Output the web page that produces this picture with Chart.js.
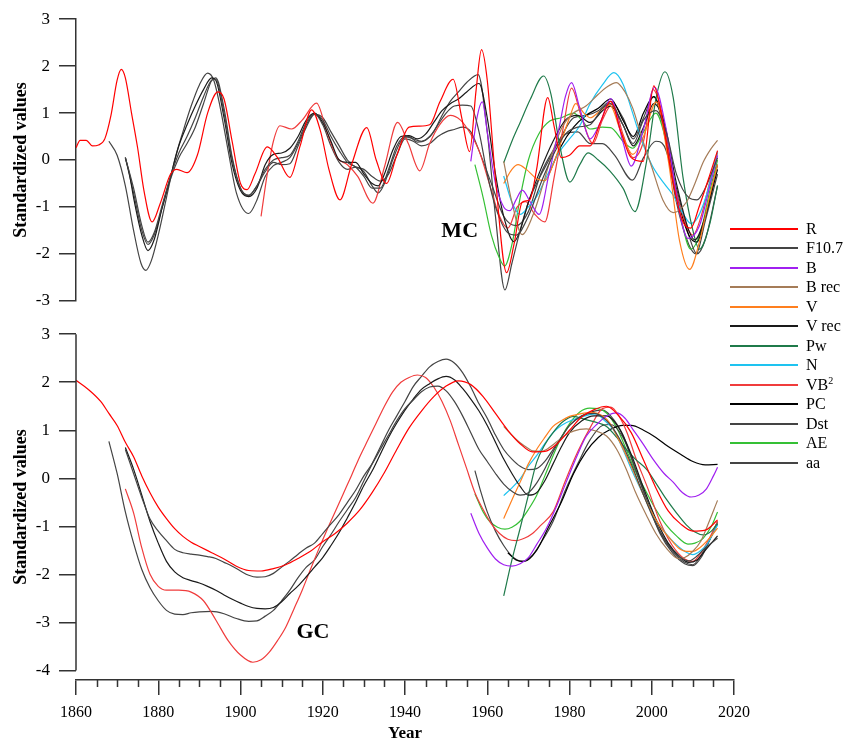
<!DOCTYPE html>
<html>
<head>
<meta charset="utf-8">
<script src="https://cdn.jsdelivr.net/npm/chart.js@4.4.0/dist/chart.umd.min.js"></script>
<style>
  body { margin: 0; background: #fff; width: 843px; height: 745px; position: relative; overflow: hidden;
         font-family: "Liberation Serif", "Times New Roman", serif; }
  #top { position: absolute; left: 0; top: 0; }
  #bot { position: absolute; left: 0; top: 315px; }
  #legend { position: absolute; left: 730px; top: 219px; }
  .row { height: 19.5px; display: flex; align-items: center; font-size: 16px; white-space: nowrap; color: #000; }
  .sw { display: block; width: 68px; height: 2px; margin-right: 8px; flex: none; }
  sup { font-size: 10px; }
</style>
</head>
<body>
<canvas id="top" width="843" height="320"></canvas>
<canvas id="bot" width="843" height="430"></canvas>
<div id="legend"></div>
<script>
// ---- MC panel (top), [year, standardized value] ----
const mcR = [[1860,0.26],[1861,0.42],[1862.5,0.42],[1864,0.3],[1865.5,0.32],[1867,0.45],[1868.5,0.95],[1870,1.7],[1871,1.93],[1872,1.75],[1873.5,1.0],[1875,0.25],[1876.5,-0.64],[1878.5,-1.32],[1880.5,-0.92],[1883,-0.3],[1884.5,-0.2],[1887,-0.27],[1889.5,0.1],[1892,1.0],[1894.5,1.45],[1896,1.3],[1898,0.38],[1900,-0.5],[1901.6,-0.63],[1903.5,-0.3],[1906.5,0.28],[1909,0.05],[1912,-0.37],[1914.5,0.3],[1917.3,1.07],[1919.5,0.6],[1921.5,-0.2],[1924.2,-0.85],[1927,-0.1],[1930.7,0.69],[1933,0.0],[1935.5,-0.5],[1938,0.1],[1941,0.7],[1943.5,0.72],[1946,0.75],[1948.5,1.24],[1951.7,1.72],[1953.8,0.9],[1955.7,0.18],[1957.3,1.5],[1958.6,2.35],[1960,1.7],[1962,-0.4],[1964.7,-2.4],[1966.5,-1.8],[1968.5,-0.9],[1970.3,-0.85],[1972,-0.2],[1974.7,1.33],[1976.3,0.7],[1978,0.05],[1980,0.1],[1982.5,0.3],[1985,0.3],[1987.5,0.8],[1990,1.25],[1992.5,0.6],[1995,0.05],[1997.9,-0.03],[2000.5,1.58],[2002.5,0.9],[2005,-0.4],[2007.5,-1.3],[2009.5,-1.45],[2011.5,-1.0],[2014,-0.35],[2016,0.2]];
const mcF107 = [[1872,0.05],[1874,-0.6],[1876,-1.4],[1877.5,-1.75],[1879,-1.55],[1881,-0.95],[1883,-0.35],[1885,0.15],[1887,0.5],[1889,0.9],[1891,1.35],[1893,1.7],[1894,1.72],[1896,1.0],[1898,0.0],[1900,-0.6],[1902,-0.75],[1904,-0.55],[1906,-0.2],[1908,0.0],[1910,0.05],[1912,0.1],[1914,0.4],[1916,0.8],[1918,0.98],[1920,0.85],[1922,0.5],[1924,0.2],[1926,-0.05],[1928,-0.15],[1930,-0.35],[1932,-0.6],[1934,-0.6],[1936,-0.2],[1938,0.3],[1940,0.5],[1942,0.45],[1944,0.4],[1946,0.5],[1948,0.75],[1950,1.0],[1952,1.15],[1954,1.17],[1956,1.15],[1958,0.6],[1960,-0.3],[1962,-1.0],[1965,-1.55],[1967,-1.6],[1970,-1.2],[1973,-0.5],[1976,0.1],[1979,0.55],[1982,0.7],[1985,0.75],[1988,1.1],[1990,1.2],[1993,0.75],[1995.5,0.35],[1998,0.85],[2001,1.05],[2003.5,0.6],[2006,-0.3],[2009,-0.8],[2011,-0.85],[2013,-0.6],[2016,0.05]];
const mcB = [[1956,-0.03],[1957.5,0.9],[1958.8,1.24],[1960,0.6],[1962,-0.5],[1964,-1.0],[1965.5,-1.08],[1967,-0.85],[1968.5,-0.64],[1970.5,-0.9],[1972.6,-1.16],[1975,-0.3],[1977.5,0.7],[1979,1.35],[1980.5,1.65],[1982.5,1.1],[1985,0.45],[1987.5,0.8],[1990,1.31],[1993,0.38],[1995,-0.13],[1998,0.66],[2000.7,1.55],[2003.5,0.66],[2006.8,-1.13],[2008.8,-1.67],[2011.6,-1.4],[2014,-0.6],[2016,0.1]];
const mcBrec = [[1964,-0.03],[1966,-0.9],[1968.5,-1.59],[1971,-1.2],[1973.6,-0.51],[1976,0.2],[1978.4,0.73],[1981,1.0],[1984,1.15],[1987,1.4],[1989,1.55],[1991.4,1.65],[1993.5,1.45],[1995.4,1.1],[1997.5,0.5],[2000,-0.15],[2002.7,-0.85],[2005.2,-1.12],[2008.4,-0.9],[2010.5,-0.5],[2012.5,-0.05],[2014.5,0.25],[2016,0.42]];
const mcV = [[1964,-0.5],[1966,-0.2],[1967.5,-0.1],[1969.5,-0.2],[1972,-0.4],[1974,-0.44],[1976,-0.1],[1978,0.4],[1980,0.9],[1981.5,1.2],[1983.5,1.0],[1985,0.9],[1987.5,1.05],[1989.8,1.17],[1992.5,0.6],[1995.4,0.12],[1998,0.5],[2001.1,1.24],[2004,0.0],[2006.8,-1.74],[2009.2,-2.33],[2011.6,-1.74],[2014,-0.8],[2016,-0.1]];
const mcVrec = [[1872,0.05],[1873,-0.3],[1874,-0.8],[1876,-1.6],[1877.5,-1.93],[1879,-1.7],[1881,-1.0],[1883,-0.35],[1885,0.3],[1887,0.75],[1889,1.15],[1891,1.5],[1893,1.75],[1894,1.7],[1896,0.9],[1898,-0.1],[1900,-0.65],[1902,-0.78],[1904,-0.6],[1906,-0.1],[1908,0.12],[1910,0.15],[1912,0.25],[1914,0.5],[1916,0.85],[1918,1.0],[1920,0.8],[1922,0.4],[1924,0.0],[1926,-0.05],[1928,-0.05],[1930,-0.3],[1932,-0.5],[1933.5,-0.55],[1935,-0.3],[1937,0.2],[1939,0.5],[1941,0.52],[1943,0.45],[1945,0.55],[1947,0.8],[1949,1.05],[1951,1.2],[1953,1.3],[1955,1.45],[1958,1.63],[1960,0.9],[1962,-0.3],[1964,-1.2],[1966.5,-1.74],[1968,-1.5],[1970,-0.9],[1973,-0.2],[1976,0.4],[1979,0.85],[1982,0.95],[1985,0.8],[1988,1.05],[1990,1.15],[1993,0.75],[1995.5,0.3],[1998,0.7],[2000.5,1.2],[2003,0.8],[2006,-0.5],[2009,-1.5],[2010.5,-1.7],[2013,-1.2],[2016,-0.1]];
const mcPw = [[1964,-0.06],[1966,0.4],[1968,0.8],[1970.5,1.3],[1973.7,1.79],[1975.5,1.4],[1977.6,0.32],[1980.1,-0.47],[1982.5,-0.1],[1984.5,0.15],[1987,0.0],[1989.8,-0.23],[1993,-0.6],[1995.9,-1.1],[1998.7,-0.05],[2001.1,1.34],[2003.2,1.88],[2005.2,1.34],[2007.6,-0.37],[2010,-1.5],[2011.6,-1.9],[2014,-1.4],[2016,-0.54]];
const mcN = [[1964,-0.34],[1966,-0.9],[1968,-1.16],[1970,-1.0],[1972,-0.78],[1975,-0.25],[1977.6,0.18],[1980,0.45],[1982.5,0.73],[1985,1.2],[1988,1.6],[1990.8,1.86],[1993,1.62],[1995,1.1],[1997,0.55],[2000,-0.1],[2003,-0.5],[2005.2,-0.75],[2008,-1.2],[2009.5,-1.35],[2011,-1.25],[2013.3,-0.75],[2016,0.18]];
const mcVB2 = [[1905,-1.2],[1906.5,-0.3],[1908,0.4],[1909.6,0.73],[1912.4,0.66],[1915,0.85],[1918.5,1.21],[1921,0.6],[1923.5,0.05],[1926,-0.1],[1928.5,-0.35],[1932.2,-0.92],[1935,-0.15],[1938.2,0.8],[1940.8,0.35],[1943.6,-0.23],[1946,0.35],[1948.5,0.76],[1951,0.95],[1953.5,0.85],[1956,0.55],[1958,0.2],[1960.5,-0.5],[1963,-1.2],[1965,-1.45],[1967.3,-1.0],[1969.4,-0.89],[1971.5,-1.15],[1974,-1.32],[1976.2,-0.4],[1978.5,0.7],[1980.5,1.53],[1982.8,0.95],[1985.7,0.35],[1988,0.85],[1990.5,1.2],[1993,0.55],[1995.5,0.05],[1998,0.4],[2000.3,1.5],[2002.5,1.0],[2005,-0.3],[2008,-1.3],[2010,-1.6],[2012,-1.2],[2014,-0.5],[2016,0.15]];
const mcPC = [[1975,-0.3],[1978,0.3],[1981,0.7],[1984,0.95],[1987,1.1],[1990,1.3],[1993,0.85],[1995.5,0.5],[1998,1.0],[2000.5,1.35],[2003,0.7],[2006,-0.7],[2009,-1.6],[2011,-1.75],[2013,-1.2],[2016,-0.2]];
const mcDst = [[1872,0.05],[1874,-0.7],[1876,-1.5],[1877.5,-1.8],[1879,-1.6],[1881,-1.0],[1883,-0.4],[1885,0.05],[1887,0.35],[1889,0.7],[1891,1.2],[1893,1.7],[1894,1.75],[1896,1.1],[1898,0.05],[1900,-0.6],[1902,-0.76],[1904,-0.55],[1906,-0.25],[1908,-0.05],[1910,-0.1],[1912,-0.08],[1914,0.3],[1916,0.7],[1918,0.97],[1920,0.9],[1922,0.6],[1924,0.3],[1926,0.0],[1928,-0.15],[1930,-0.2],[1932,-0.35],[1934,-0.45],[1936,-0.3],[1938,0.1],[1940,0.45],[1942,0.4],[1944,0.3],[1946,0.35],[1948,0.5],[1950,0.6],[1952,0.65],[1954,0.7],[1956,0.6],[1958,0.2],[1961,-0.5],[1964,-1.2],[1967,-1.4],[1970,-1.1],[1973,-0.3],[1976,0.2],[1979,0.55],[1982,0.6],[1985,0.35],[1988,0.35],[1991,0.1],[1995.3,-0.43],[1998,0.05],[2001,0.4],[2003,0.3],[2006,-0.6],[2009,-1.6],[2011,-2.0],[2013,-1.7],[2016,-0.55]];
const mcAE = [[1957,-0.1],[1959,-0.8],[1961,-1.6],[1963,-2.1],[1964.2,-2.26],[1966,-1.8],[1968,-0.8],[1970,0.0],[1972.5,0.55],[1975.2,0.83],[1978,0.9],[1981,1.0],[1983,0.85],[1985,0.66],[1988,0.7],[1990,0.69],[1993,0.4],[1995.4,0.25],[1998,0.6],[2001,1.0],[2004,0.2],[2007,-1.2],[2009.5,-1.9],[2012,-1.5],[2014,-0.7],[2016,0.0]];
const mcAa = [[1868,0.4],[1870,0.1],[1872,-0.55],[1874,-1.5],[1875.8,-2.2],[1877,-2.35],[1878.3,-2.15],[1880,-1.6],[1882,-0.8],[1884,0.0],[1886,0.6],[1888,1.15],[1890,1.6],[1892,1.85],[1893.5,1.7],[1895,1.15],[1897,0.2],[1899,-0.7],[1902,-1.14],[1904,-0.85],[1906,-0.35],[1908,-0.12],[1910,-0.05],[1912,0.05],[1914,0.35],[1916,0.75],[1918,0.98],[1920,0.75],[1922,0.3],[1924,-0.05],[1926,-0.2],[1928,-0.15],[1930,-0.25],[1932,-0.55],[1933.5,-0.7],[1935,-0.5],[1937,0.0],[1939,0.4],[1941,0.5],[1943,0.38],[1945,0.42],[1947,0.6],[1949,0.95],[1951,1.25],[1953,1.45],[1955,1.65],[1957.8,1.82],[1960,0.6],[1962,-1.2],[1964.3,-2.77],[1966,-2.2],[1968,-1.5],[1970,-0.9],[1972,-0.5],[1975,0.0],[1978,0.5],[1981,0.9],[1984,0.95],[1987,1.05],[1990,1.25],[1993,0.9],[1995.5,0.45],[1998,0.9],[2000.5,1.35],[2003,0.6],[2006,-0.9],[2009,-1.8],[2010.8,-2.0],[2013,-1.3],[2016,-0.3]];

// ---- GC panel (bottom), [year, standardized value] ----
const gcR = [[1860,2.04],[1863,1.85],[1866,1.6],[1868,1.35],[1870,1.1],[1872,0.75],[1874,0.45],[1876,0.05],[1878,-0.3],[1880,-0.6],[1882,-0.84],[1884,-1.05],[1886,-1.21],[1888,-1.33],[1890,-1.42],[1893,-1.55],[1896,-1.68],[1899,-1.83],[1902,-1.92],[1905,-1.93],[1908,-1.88],[1911,-1.8],[1914,-1.67],[1917,-1.52],[1920,-1.32],[1923,-1.15],[1926,-0.93],[1929,-0.66],[1932,-0.3],[1935,0.12],[1938,0.6],[1941,1.05],[1944,1.4],[1947,1.7],[1950,1.92],[1953,2.03],[1956,1.95],[1959,1.7],[1962,1.35],[1965,1.0],[1968,0.72],[1971,0.55],[1974,0.56],[1977,0.72],[1980,1.0],[1983,1.28],[1986,1.43],[1989,1.5],[1992,1.3],[1995,0.95],[1998,0.38],[2001,-0.2],[2004,-0.68],[2007,-0.95],[2010,-1.1],[2013,-1.08],[2016,-0.87]];
const gcF107 = [[1872,0.6],[1874,0.1],[1876,-0.4],[1878,-0.85],[1880,-1.1],[1882,-1.3],[1884,-1.48],[1886,-1.55],[1888,-1.58],[1890,-1.6],[1892,-1.63],[1894,-1.67],[1896,-1.75],[1898,-1.83],[1900,-1.93],[1902,-2.02],[1904,-2.06],[1906,-2.05],[1908,-1.98],[1910,-1.85],[1912,-1.72],[1914,-1.58],[1916,-1.45],[1918,-1.35],[1920,-1.15],[1922,-0.95],[1924,-0.75],[1926,-0.5],[1928,-0.25],[1930,0.05],[1932,0.3],[1934,0.6],[1936,0.9],[1938,1.2],[1940,1.45],[1942,1.63],[1944,1.8],[1946,1.9],[1948,1.92],[1950,1.82],[1952,1.6],[1954,1.3],[1956,0.95],[1958,0.6],[1960,0.35],[1962,0.1],[1964,-0.12],[1966,-0.27],[1968,-0.35],[1970,-0.3],[1972,-0.1],[1974,0.2],[1976,0.55],[1978,0.85],[1980,1.1],[1983,1.3],[1986,1.35],[1989,1.2],[1992,0.85],[1995,0.3],[1998,-0.35],[2001,-0.95],[2004,-1.4],[2007,-1.65],[2009,-1.72],[2011,-1.62],[2013,-1.45],[2016,-1.25]];
const gcB = [[1956,-0.73],[1958,-1.15],[1960,-1.45],[1962,-1.68],[1964,-1.8],[1966,-1.83],[1968,-1.78],[1970,-1.65],[1972,-1.38],[1974.4,-1.04],[1977,-0.55],[1979.2,-0.08],[1982,0.5],[1984.1,0.88],[1987,1.15],[1989,1.29],[1991.4,1.36],[1993.5,1.25],[1995.4,1.02],[1998,0.7],[2000.3,0.4],[2003,0.1],[2005.2,-0.08],[2007.5,-0.3],[2009.6,-0.39],[2011.5,-0.35],[2013.3,-0.22],[2015,0.05],[2016,0.23]];
const gcBrec = [[1964,1.08],[1966,0.9],[1968,0.74],[1970,0.62],[1971.1,0.57],[1973,0.56],[1974.4,0.6],[1976,0.7],[1977.6,0.81],[1980,0.95],[1982.5,1.02],[1984.1,1.03],[1986.5,0.98],[1989,0.88],[1991.5,0.6],[1993.8,0.19],[1996,-0.28],[1998.7,-0.77],[2001,-1.15],[2003.5,-1.45],[2006.4,-1.67],[2008,-1.65],[2010,-1.52],[2012,-1.3],[2013.3,-1.04],[2016,-0.46]];
const gcV = [[1964,-0.84],[1966,-0.45],[1968,-0.08],[1970,0.3],[1972,0.6],[1974,0.85],[1976,1.08],[1978,1.2],[1980,1.29],[1982,1.33],[1984,1.36],[1985.7,1.37],[1988,1.3],[1989.8,1.15],[1992,0.8],[1994.6,0.33],[1997,-0.15],[1999.5,-0.63],[2002,-1.0],[2004.4,-1.25],[2006.5,-1.45],[2008.4,-1.52],[2010,-1.52],[2011.6,-1.45],[2014,-1.25],[2016,-1.04]];
const gcVrec = [[1872,0.64],[1874,0.19],[1876,-0.35],[1878,-0.9],[1880,-1.35],[1882,-1.73],[1884,-1.95],[1886,-2.07],[1888,-2.13],[1890,-2.18],[1892,-2.25],[1894,-2.33],[1896,-2.43],[1898,-2.52],[1900,-2.6],[1902,-2.67],[1904,-2.71],[1906,-2.72],[1908,-2.69],[1910,-2.57],[1912,-2.4],[1914,-2.24],[1916,-2.05],[1918,-1.85],[1920,-1.65],[1922,-1.4],[1924,-1.13],[1926,-0.82],[1928,-0.5],[1930,-0.15],[1932,0.15],[1934,0.5],[1936,0.85],[1938,1.15],[1940,1.42],[1942,1.65],[1944,1.85],[1946,1.97],[1948,2.07],[1950,2.12],[1952,2.05],[1954,1.87],[1956,1.65],[1958,1.4],[1960,1.1],[1962,0.75],[1964,0.4],[1966,0.1],[1968,-0.17],[1970,-0.35],[1972,-0.3],[1974,-0.05],[1976,0.3],[1978,0.65],[1980,0.95],[1983,1.2],[1986,1.3],[1989,1.3],[1992,1.05],[1995,0.5],[1998,-0.2],[2001,-0.85],[2004,-1.35],[2007,-1.65],[2009,-1.75],[2011,-1.7],[2013,-1.5],[2016,-1.2]];
const gcPw = [[1964,-2.45],[1966,-1.7],[1968,-1.04],[1970,-0.35],[1972,0.33],[1974,0.7],[1976,0.95],[1978,1.15],[1980.9,1.29],[1984,1.22],[1987,1.15],[1989,1.08],[1991.5,0.85],[1993.8,0.6],[1996,0.4],[1998.7,0.19],[2001,-0.1],[2003.5,-0.43],[2006,-0.72],[2008.4,-0.97],[2010.5,-1.12],[2012.5,-1.18],[2014.5,-1.1],[2016,-0.94]];
const gcN = [[1964,-0.36],[1966,-0.2],[1968,-0.01],[1970,0.25],[1972,0.47],[1974,0.72],[1976,0.95],[1978,1.1],[1980.9,1.22],[1983,1.28],[1986.5,1.34],[1988.5,1.2],[1990.6,1.02],[1993,0.6],[1995.4,0.12],[1998,-0.35],[2000.3,-0.77],[2003,-1.1],[2005.2,-1.32],[2008,-1.52],[2010,-1.59],[2012,-1.5],[2013.3,-1.39],[2016,-0.97]];
const gcVB2 = [[1872,-0.22],[1874,-0.72],[1876,-1.45],[1878,-2.0],[1880,-2.25],[1882,-2.33],[1885,-2.33],[1888,-2.37],[1891,-2.55],[1894,-2.95],[1897,-3.38],[1900,-3.68],[1903,-3.83],[1905,-3.78],[1907,-3.62],[1909,-3.38],[1911,-3.1],[1913,-2.72],[1915,-2.33],[1917,-1.9],[1919,-1.48],[1921,-1.08],[1923,-0.7],[1925,-0.32],[1927,0.06],[1929,0.45],[1931,0.8],[1933,1.15],[1935,1.5],[1937,1.8],[1939,2.0],[1941,2.1],[1943,2.15],[1945,2.1],[1947,1.9],[1949,1.6],[1951,1.2],[1953,0.7],[1955,0.2],[1957,-0.3],[1959,-0.65],[1961,-0.95],[1963,-1.15],[1965,-1.27],[1967,-1.3],[1969,-1.25],[1971,-1.15],[1973,-0.98],[1976,-0.7],[1979,-0.05],[1982,0.55],[1985,1.05],[1988,1.45],[1990,1.48],[1992,1.3],[1994,0.95],[1996,0.45],[1999,-0.2],[2002,-0.9],[2005,-1.4],[2008,-1.68],[2010,-1.73],[2012,-1.55],[2014,-1.25],[2016,-0.9]];
const gcPC = [[1965,-1.55],[1967,-1.7],[1969,-1.73],[1972,-1.5],[1975,-1.0],[1978,-0.5],[1981,0.1],[1984,0.55],[1987,0.85],[1990,1.02],[1993,1.1],[1995,1.1],[1998,1.0],[2001,0.85],[2004,0.66],[2007,0.5],[2010,0.35],[2013,0.28],[2016,0.29]];
const gcDst = [[1957,0.16],[1958.5,-0.3],[1960,-0.7],[1962,-1.1],[1964,-1.4],[1966,-1.62],[1968.5,-1.73],[1971,-1.6],[1973,-1.35],[1976,-0.9],[1979,-0.25],[1982,0.3],[1985,0.8],[1988,1.1],[1990,1.12],[1993,0.85],[1996,0.2],[1999,-0.5],[2002,-1.15],[2005,-1.55],[2008,-1.78],[2010,-1.82],[2012,-1.65],[2014,-1.3],[2016,-0.9]];
const gcAE = [[1957,-0.32],[1959,-0.7],[1960.6,-0.9],[1962.5,-1.02],[1964.3,-1.06],[1966,-1.02],[1967.9,-0.9],[1970,-0.65],[1972,-0.36],[1974,0.05],[1976,0.47],[1978,0.85],[1980.1,1.15],[1982.5,1.38],[1984.9,1.46],[1987,1.45],[1989,1.36],[1991.5,1.05],[1993.8,0.6],[1996,0.15],[1998.7,-0.29],[2001,-0.65],[2003.5,-0.97],[2006,-1.2],[2008.8,-1.37],[2010.5,-1.35],[2012.5,-1.25],[2014.5,-1.0],[2016,-0.7]];
const gcAa = [[1868,0.77],[1870,0.1],[1872,-0.7],[1874,-1.35],[1876,-1.9],[1878,-2.28],[1880,-2.55],[1882,-2.75],[1884,-2.83],[1886,-2.84],[1888,-2.8],[1890,-2.78],[1893,-2.77],[1896,-2.82],[1899,-2.92],[1902,-2.98],[1904,-2.97],[1906,-2.87],[1908,-2.75],[1910,-2.55],[1912,-2.33],[1914,-2.07],[1916,-1.85],[1918,-1.7],[1920,-1.42],[1922,-1.17],[1924,-0.9],[1926,-0.65],[1928,-0.4],[1930,-0.05],[1932,0.3],[1934,0.65],[1936,1.0],[1938,1.3],[1940,1.6],[1942,1.91],[1944,2.12],[1946,2.32],[1948,2.43],[1950,2.48],[1952,2.4],[1954,2.2],[1956,1.9],[1958,1.55],[1960,1.25],[1962,0.9],[1964,0.6],[1966,0.4],[1968,0.25],[1970,0.18],[1972,0.2],[1974,0.35],[1976,0.6],[1978,0.85],[1980,1.1],[1983,1.3],[1986,1.4],[1988,1.42],[1990,1.3],[1993,0.9],[1996,0.2],[1999,-0.5],[2002,-1.1],[2005,-1.5],[2008,-1.75],[2010,-1.8],[2012,-1.6],[2014,-1.3],[2016,-0.95]];

const SERIF = '"Liberation Serif", "Times New Roman", serif';
const AXIS = '#333';

const SERIES = [
  { label: 'R',     color: '#ff0000', mc: mcR,    gc: gcR },
  { label: 'F10.7', color: '#444444', mc: mcF107, gc: gcF107 },
  { label: 'B',     color: '#a020f0', mc: mcB,    gc: gcB },
  { label: 'B rec', color: '#a57c58', mc: mcBrec, gc: gcBrec },
  { label: 'V',     color: '#ff7f1e', mc: mcV,    gc: gcV },
  { label: 'V rec', color: '#1a1a1a', mc: mcVrec, gc: gcVrec },
  { label: 'Pw',    color: '#1f7a4a', mc: mcPw,   gc: gcPw },
  { label: 'N',     color: '#1ec3f0', mc: mcN,    gc: gcN },
  { label: 'VB²',   color: '#f03c3c', mc: mcVB2,  gc: gcVB2, html: 'VB<sup>2</sup>' },
  { label: 'PC',    color: '#000000', mc: mcPC,   gc: gcPC },
  { label: 'Dst',   color: '#444444', mc: mcDst,  gc: gcDst },
  { label: 'AE',    color: '#35c035', mc: mcAE,   gc: gcAE },
  { label: 'aa',    color: '#444444', mc: mcAa,   gc: gcAa }
];

function datasets(key) {
  return SERIES.map(s => ({
    label: s.label,
    data: s[key].map(([x, y]) => ({ x, y })),
    borderColor: s.color,
    borderWidth: 1.2,
    pointRadius: 0,
    fill: false,
    cubicInterpolationMode: 'monotone'
  }));
}

function yAxis(min, max, showBorder) {
  return {
    type: 'linear', min, max,
    ticks: { stepSize: 1, includeBounds: false, padding: 9, color: '#000', font: { family: SERIF, size: 17 } },
    grid: { drawOnChartArea: false, tickLength: 17, color: AXIS, lineWidth: 1.5 },
    border: { display: showBorder, color: AXIS, width: 1.5 },
    title: { display: true, text: 'Standardized values', color: '#000',
             font: { family: SERIF, size: 18, weight: 'bold' }, padding: { top: 11, bottom: 0 } },
    afterFit(s) { s.width = 76; }
  };
}

// panel tag (MC / GC) placed in data coordinates
const panelTag = {
  id: 'panelTag',
  afterDatasetsDraw(chart, args, opts) {
    const { ctx, scales: { x, y } } = chart;
    ctx.save();
    ctx.font = 'bold 22px ' + SERIF;
    ctx.fillStyle = '#000';
    ctx.textAlign = 'center';
    ctx.textBaseline = 'middle';
    ctx.fillText(opts.text, x.getPixelForValue(opts.at[0]), y.getPixelForValue(opts.at[1]));
    ctx.restore();
  }
};

// bottom panel: left axis line stops at -4, minor year ticks every 5
const axisDeco = {
  id: 'axisDeco',
  afterDraw(chart) {
    const { ctx, chartArea, scales: { x, y } } = chart;
    ctx.save();
    ctx.strokeStyle = AXIS;
    ctx.lineWidth = 1.5;
    ctx.beginPath();
    ctx.moveTo(chartArea.left, y.getPixelForValue(3));
    ctx.lineTo(chartArea.left, y.getPixelForValue(-4));
    for (let yr = 1865; yr < 2020; yr += 5) {
      if (yr % 20 === 0) continue;
      const px = Math.round(x.getPixelForValue(yr)) + 0.5;
      ctx.moveTo(px, chartArea.bottom);
      ctx.lineTo(px, chartArea.bottom + 7);
    }
    ctx.stroke();
    ctx.restore();
  }
};

const common = {
  responsive: false,
  animation: false,
  events: [],
  plugins: { legend: { display: false }, tooltip: { enabled: false } }
};

new Chart(document.getElementById('top'), {
  type: 'line',
  data: { datasets: datasets('mc') },
  plugins: [panelTag],
  options: {
    ...common,
    layout: { padding: { top: 15.5, right: 109, bottom: 13, left: 0 } },
    plugins: { ...common.plugins, panelTag: { text: 'MC', at: [1953.3, -1.52] } },
    scales: {
      x: { type: 'linear', min: 1860, max: 2020, display: false },
      y: yAxis(-3, 3, true)
    }
  }
});

new Chart(document.getElementById('bot'), {
  type: 'line',
  data: { datasets: datasets('gc') },
  plugins: [panelTag, axisDeco],
  options: {
    ...common,
    layout: { padding: { top: 15, right: 109, bottom: 0, left: 0 } },
    plugins: { ...common.plugins, panelTag: { text: 'GC', at: [1917.6, -3.2] } },
    scales: {
      x: {
        type: 'linear', min: 1860, max: 2020,
        ticks: { stepSize: 20, padding: 8, color: '#000', maxRotation: 0, autoSkip: false,
                 font: { family: SERIF, size: 16 }, callback: v => String(v) },
        grid: { drawOnChartArea: false, tickLength: 15, color: AXIS, lineWidth: 1.5 },
        border: { color: AXIS, width: 1.5 },
        title: { display: true, text: 'Year', color: '#000',
                 font: { family: SERIF, size: 17, weight: 'bold' }, padding: { top: 0, bottom: 1 } },
        afterFit(s) { s.height = 65; }
      },
      y: yAxis(-4.2, 3, false)
    }
  }
});

// legend (shared by both panels)
const leg = document.getElementById('legend');
SERIES.forEach(s => {
  const row = document.createElement('div');
  row.className = 'row';
  row.innerHTML = '<span class="sw" style="background:' + s.color + '"></span><span>' + (s.html || s.label) + '</span>';
  leg.appendChild(row);
});
</script>
</body>
</html>
